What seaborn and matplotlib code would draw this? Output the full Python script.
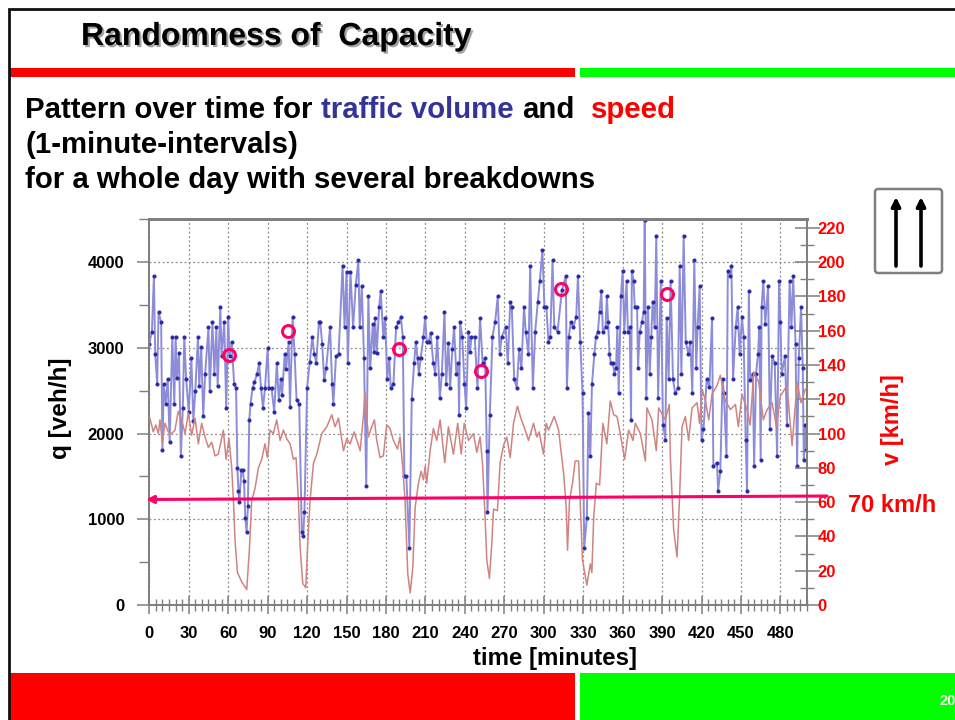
import matplotlib
matplotlib.use('Agg')
import matplotlib.pyplot as plt
import matplotlib.patheffects as pe
from matplotlib.patches import Rectangle, FancyBboxPatch
from matplotlib.ticker import MultipleLocator
import seaborn as sns

# q readings: (minute, veh/h) per stretch of the day
q_min = [0, 2, 3.5, 4.5, 6, 7, 9, 10, 11, 12.5, 14, 15.5, 17.5, 19, 20, 21, 22.6, 24, 25.5, 26.6, 28, 30, 32,
         33.5, 35, 37, 38, 39.5, 41, 42.5, 45, 46, 48, 49.5, 51, 52, 54, 55, 57, 58.5, 60, 61, 62.7, 64.5, 66,
         67, 67.8, 68.5, 70, 71, 72, 73, 74, 75, 76, 77, 78.5, 80, 82, 83.5, 85, 86.5, 88, 90, 91, 93, 95, 97,
         98.5, 100, 101, 103, 104, 106, 107, 109, 110.5, 112, 114, 116, 117, 118, 120, 122, 124, 125.5, 127,
         129, 130, 131.5, 133, 134.5, 137.5, 139, 140, 142, 144, 147, 148.5, 150, 151, 153, 155, 157, 159, 160,
         161.6, 163.3, 165, 166.6, 168, 170, 171, 171.7, 173, 174.8, 176, 178, 179.3, 181, 182.5, 183.6, 185.7,
         187.7, 189.5, 191.3, 192.8, 194, 195.5, 197.8, 199.6, 201.4, 202.7, 204, 205, 206.5, 208.5, 209.8,
         211, 212.5, 214, 216, 217.4, 219, 221, 222.5, 224.5, 225.8, 227.5, 228.8, 230.5, 231.8, 233.5, 235,
         235.6, 236.4, 238, 239.7, 241, 242.7, 244, 245, 247.5, 249.6, 251.6, 253.5, 255.4, 256.7, 257.2, 259,
         261, 263, 265, 266.5, 268, 271, 272.7, 274.5, 275.7, 277.5, 279.5, 281.3, 283, 285, 286.3, 288.4,
         289.7, 291.7, 293.5, 295.5, 297, 299, 300.5, 302, 303.6, 305, 306.7, 308, 310.5, 313.8, 316.8, 317.6,
         319, 320.6, 322.5, 324.7, 326, 327.8, 329.5, 330.8, 332.8, 334, 335.4, 336.7, 338.5, 339.7, 341.2,
         342.5, 343.8, 345, 347, 348, 349, 350, 351, 352.6, 353.7, 355, 356, 357, 358.7, 360, 361.3, 363, 364,
         365.4, 366.4, 367, 368.3, 369.2, 371, 371.7, 373, 374.7, 376, 376.8, 378, 379.3, 380.6, 381.8, 382.8,
         384.4, 385.6, 387, 389, 390.7, 392.5, 393.5, 395, 396.5, 398.3, 400, 402, 403.4, 404.7, 406.4, 408,
         410, 411.5, 413, 414.5, 416, 417, 418.6, 420, 421.5, 424, 426, 428, 429, 431.8, 432.6, 434.3, 436,
         437, 439, 440, 442, 442.7, 444, 446, 447.5, 449, 450.8, 452, 453.6, 454.6, 456, 457, 459, 460, 461.5,
         463, 464, 465, 465.7, 467, 468.5, 470.6, 472, 473.7, 475.7, 477.5, 479, 480, 481, 483.5, 485, 487,
         488.4, 489.7, 491.5, 492.7, 494, 495.7, 497, 497.8, 498.8, 499.8]
q_veh = [3050, 3190, 3840, 2930, 2580, 3420, 3300, 1810, 2580, 2350, 2640, 1900, 3130, 2350, 3130, 2650, 2940,
         1740, 2300, 3130, 2640, 2250, 2880, 2150, 2500, 3130, 2550, 3010, 2200, 2700, 3240, 2500, 3300, 2700,
         3240, 2550, 3480, 2900, 3300, 2300, 3360, 2900, 3070, 2580, 2530, 1600, 1330, 1200, 1570, 1570, 1450,
         1020, 850, 1150, 2160, 2350, 2530, 2600, 2700, 2820, 2530, 2300, 2530, 3000, 2530, 2530, 2250, 2820,
         2390, 2640, 2450, 2930, 2750, 3070, 2310, 3360, 2930, 2390, 2350, 850, 800, 1080, 2530, 2830, 3130,
         2930, 2820, 3300, 3300, 3050, 2620, 2760, 3240, 2580, 2350, 2900, 2930, 3960, 3240, 3890, 2820, 3890,
         3240, 3730, 4020, 3240, 3720, 2880, 1390, 3600, 2760, 3280, 2950, 3350, 2940, 3480, 3660, 3130, 3350,
         2640, 2880, 2530, 2580, 3240, 3300, 3360, 3130, 1500, 1500, 670, 2400, 2820, 3070, 2880, 2700, 2880,
         3130, 3360, 3070, 3070, 3175, 2820, 2700, 3130, 2410, 2700, 3420, 2580, 3060, 2530, 2990, 3240, 2700,
         2820, 2220, 3300, 3130, 2580, 2300, 3190, 2950, 3130, 3130, 2530, 3350, 2820, 2880, 1800, 1080, 2220,
         3130, 3300, 3600, 2930, 3130, 3240, 2820, 3540, 3480, 2640, 2530, 2990, 2760, 3480, 3190, 2930, 3960,
         2530, 3190, 3540, 3780, 4140, 3480, 3480, 3070, 3130, 4020, 3240, 3190, 3670, 3840, 2530, 3130, 3300,
         3240, 3360, 3840, 3070, 2470, 670, 1020, 2240, 1740, 2580, 2930, 3130, 3190, 3420, 3665, 3190, 3240,
         3600, 3300, 2930, 2825, 2825, 2700, 2760, 3240, 2470, 3600, 3900, 3190, 3780, 3190, 3240, 2160, 3900,
         3780, 3480, 3480, 2760, 3190, 3300, 3420, 4490, 2410, 3480, 2700, 3130, 3540, 3240, 4310, 2410, 3780,
         2100, 1930, 3350, 2640, 3780, 2640, 2470, 2530, 3960, 2700, 4310, 3070, 2930, 3070, 2470, 4020, 2760,
         3240, 3720, 1930, 2050, 2640, 2540, 3350, 1620, 1660, 1330, 1560, 2640, 2470, 1740, 3900, 3840, 3960,
         2640, 3240, 3480, 2930, 3360, 3130, 1930, 1330, 3660, 2620, 2700, 1620, 2700, 2930, 3240, 1690, 3480,
         3780, 3280, 3720, 2050, 2900, 2825, 1740, 3780, 3300, 2700, 2900, 2100, 3780, 3240, 3840, 3050, 1620,
         2880, 3480, 2760, 1690, 2100, 1810]

# v readings: (minute, km/h)
v_min = [0, 1.8, 3, 5, 6.9, 8.1, 9.9, 12, 14.5, 17, 19.5, 22, 24.6, 27.2, 29.7, 32.2, 34.8, 37.3, 39.8, 42.4,
         44.9, 47.5, 50, 52.5, 56.3, 58.4, 60.6, 62.7, 64, 65.2, 67, 70.3, 74.1, 76.1, 77.9, 80.4, 83, 85.5, 88,
         89.8, 91.9, 94.4, 96.9, 99.5, 102, 104.5, 107.1, 109.6, 111.6, 113.4, 114.7, 116.7, 119, 120.5, 122.3,
         124.8, 127.4, 131.2, 135, 138.8, 141.3, 143.9, 147.7, 150.2, 152.7, 155.8, 160.4, 163, 164, 166.6,
         169.2, 171.2, 173, 175.5, 178, 180.6, 183.1, 185.7, 188.7, 190.7, 192.8, 194.5, 196.6, 198.4, 200.4,
         202.2, 204.7, 206.7, 208.5, 209.8, 211, 213.6, 216.1, 218.6, 221.2, 224.7, 227.5, 231.3, 234.6, 237.2,
         239.5, 242.8, 246.6, 249.1, 251.6, 253.4, 255.4, 256.7, 258.7, 260.5, 261.8, 264.8, 266.8, 269.4,
         271.9, 274.5, 277, 280, 282.6, 285.9, 288.4, 292.2, 294.8, 296.5, 299.8, 301.9, 303.6, 308, 311.3,
         315.1, 317.1, 318.1, 319.6, 321.9, 323.9, 326.5, 327.7, 329.5, 332.8, 335.4, 336.6, 338, 340, 342.5,
         345, 348, 350.6, 353.2, 355.7, 358.2, 361.5, 364.6, 367.9, 369.6, 373.5, 377.3, 378.5, 382.3, 385.6,
         387.4, 392.5, 395.5, 396.3, 398.8, 401.4, 403.4, 405.2, 407.7, 410.2, 412.8, 416.6, 418.5, 420.4, 423,
         425.5, 428, 431.8, 434.3, 438.2, 442, 445.8, 448, 450.8, 454.6, 457, 459.7, 463.5, 467, 469.9, 473.7,
         477, 480, 485, 488.9, 492.7, 495.7, 499]
v_kmh = [110, 105, 101, 105, 100, 108, 95, 106, 101, 100, 102, 113, 108, 100, 112, 99, 109, 94, 106, 98, 92,
         95, 87, 88, 102, 85, 97, 80, 61, 38, 19, 13.5, 9, 32, 61, 68, 80, 85, 94, 86, 102, 100, 108, 96, 102,
         97, 94, 85, 86, 61, 34, 12.6, 10, 36, 61, 82.5, 88, 100, 104, 111, 104, 109, 90, 97, 94, 101, 90, 112,
         124, 98, 104, 108, 96, 86, 87, 105, 103, 96, 91, 98, 80, 61, 18, 7, 22, 57, 71, 78, 73, 81, 71, 90,
         103, 96, 108, 83, 104, 88, 106, 88, 106, 96, 100, 89, 98, 83, 51, 26, 15.5, 36, 56, 55, 83, 93, 98,
         86, 106, 116, 109, 102, 96, 106, 98, 101, 88, 106, 102, 110, 102, 77, 57, 32, 61, 71, 84, 84, 61, 26,
         11.6, 24, 19, 51, 71, 70, 106, 94, 119, 111, 110, 100, 85, 102, 96, 106, 100, 84, 115, 108, 90, 115,
         108, 117, 86, 44, 28, 65, 104, 110, 96, 115, 118, 106, 126, 119, 108, 123, 128, 134, 119, 114, 117,
         104, 123, 114, 105, 136, 130, 108, 114, 118, 104, 122, 128, 93, 130, 118, 126]

# breakdown points ringed on the slide
circle_min = [60.7, 105.6, 190, 252.5, 313.4, 393.4]
circle_q = [2915, 3195, 2985, 2730, 3685, 3627]

q_ticks = [0, 1000, 2000, 3000, 4000]
v_ticks = [0, 20, 40, 60, 80, 100, 120, 140, 160, 180, 200, 220]
t_ticks = [0, 30, 60, 90, 120, 150, 180, 210, 240, 270, 300, 330, 360, 390, 420, 450, 480]

W, H = 955, 720
GREY = '#7f7f7f'
MAGENTA = '#ff0066'
RED = '#ff0000'
GREEN = '#00ff00'
NAVY = '#33339a'

sns.set_theme(style='white')
plt.rcParams['font.family'] = ['Liberation Sans', 'DejaVu Sans']
plt.rcParams['font.weight'] = 'bold'

fig = plt.figure(figsize=(W / 100, H / 100), dpi=100, facecolor='white')
ax = fig.add_axes([149.3 / W, 1 - 605 / H, (806.7 - 149.3) / W, (605 - 219.3) / H])
ax2 = ax.twinx()

sns.lineplot(x=q_min, y=q_veh, ax=ax, sort=False, estimator=None, errorbar=None, color='#8c8cd8', lw=1.4,
             marker='o', ms=2.2, mfc='#2a2aa8', mec='#2a2aa8', zorder=3)
sns.lineplot(x=v_min, y=v_kmh, ax=ax2, sort=False, estimator=None, errorbar=None, color='#cf8482', lw=1.1, zorder=4)
ax2.plot(circle_min, [c / 20 for c in circle_q], ls='none', marker='o', ms=8.6, mfc='none', mec=MAGENTA, mew=2.2,
         zorder=6)

ax.set_xlim(0, 500)
ax.set_ylim(0, 4500)
ax2.set_ylim(0, 225)
ax.set_xticks(t_ticks)
ax.xaxis.set_minor_locator(MultipleLocator(5))
ax.set_yticks(q_ticks)
ax.yaxis.set_minor_locator(MultipleLocator(500))
ax2.set_yticks(v_ticks)
ax2.yaxis.set_minor_locator(MultipleLocator(10))
ax.grid(True, which='major', color='#8c8c8c', ls=(0, (1.5, 2)), lw=0.9)
ax.set_axisbelow(True)
ax.set_xlabel('')
ax.set_ylabel('')
ax2.set_ylabel('')

for a in (ax, ax2):
    for s in a.spines.values():
        s.set_color(GREY)
        s.set_linewidth(1.3)
    a.spines['top'].set_linewidth(2)

ax.tick_params(axis='x', which='major', direction='inout', length=13, width=1.1, color=GREY, labelsize=12,
               labelcolor='black', pad=8.5, bottom=True)
ax.tick_params(axis='x', which='minor', direction='inout', length=9, width=1, color=GREY, bottom=True)
ax.tick_params(axis='y', which='major', direction='out', length=9, width=1.1, color=GREY, labelsize=12,
               labelcolor='black', pad=9, left=True)
ax.tick_params(axis='y', which='minor', direction='out', length=7, width=1, color=GREY, left=True)
ax2.tick_params(axis='y', which='major', direction='inout', length=18, width=1.1, color=GREY, labelsize=12,
                labelcolor=RED, pad=-1, right=True)
ax2.tick_params(axis='y', which='minor', direction='inout', length=10, width=1, color=GREY, right=True)

# overlay in picture pixels for the slide furniture
ov = fig.add_axes([0, 0, 1, 1], zorder=10)
ov.set_xlim(0, W)
ov.set_ylim(H, 0)
ov.axis('off')
ov.patch.set_alpha(0)

for x, y, w, h, c in [(10, 68, 565, 9, RED), (580, 68, 375, 9, GREEN), (10, 673, 565, 47, RED), (580, 673, 375, 47, GREEN)]:
    ov.add_patch(Rectangle((x, y), w, h, fc=c, ec='none'))
ov.plot([8.5, 8.5, W], [H, 8.5, 8.5], color='#111111', lw=2, solid_joinstyle='miter')

ov.text(81, 37, 'Randomness of  Capacity', fontsize=23, fontweight='bold', va='center', color='black',
        path_effects=[pe.withSimplePatchShadow(offset=(1.5, -1.5), shadow_rgbFace='#999999', alpha=0.9)])

ov.text(25, 110, 'Pattern over time for', fontsize=21.2, va='center', color='black')
ov.text(321, 110, 'traffic volume', fontsize=21.2, va='center', color=NAVY)
ov.text(522, 110, 'and', fontsize=21.2, va='center', color='black')
ov.text(591, 110, 'speed', fontsize=21.2, va='center', color=RED)
ov.text(25, 145, '(1-minute-intervals)', fontsize=21.2, va='center', color='black')
ov.text(25, 180, 'for a whole day with several breakdowns', fontsize=21.2, va='center', color='black')

ov.text(60, 408, 'q [veh/h]', fontsize=17.5, rotation=90, ha='center', va='center', color='black')
ov.text(892, 420, 'v [km/h]', fontsize=17, rotation=90, ha='center', va='center', color=RED)
ov.text(555, 658, 'time [minutes]', fontsize=17.3, ha='center', va='center', color='black')
ov.text(848, 505, '70 km/h', fontsize=17, va='center', color=RED)
ov.text(939, 701, '20', fontsize=10.5, va='center', color='white')

ov.annotate('', xy=(146, 499.5), xytext=(827, 496),
            arrowprops=dict(arrowstyle='-|>', color=MAGENTA, lw=2.2, mutation_scale=11, shrinkA=0, shrinkB=0))

ov.add_patch(FancyBboxPatch((875, 189), 67, 84, boxstyle='round,pad=0,rounding_size=3', fc='white', ec=GREY, lw=1.8))
for x in (896, 921):
    ov.annotate('', xy=(x, 197), xytext=(x, 266),
                arrowprops=dict(arrowstyle='-|>', color='black', lw=2.6, mutation_scale=13, shrinkA=0, shrinkB=0))

fig.savefig('out.png', dpi=100)
